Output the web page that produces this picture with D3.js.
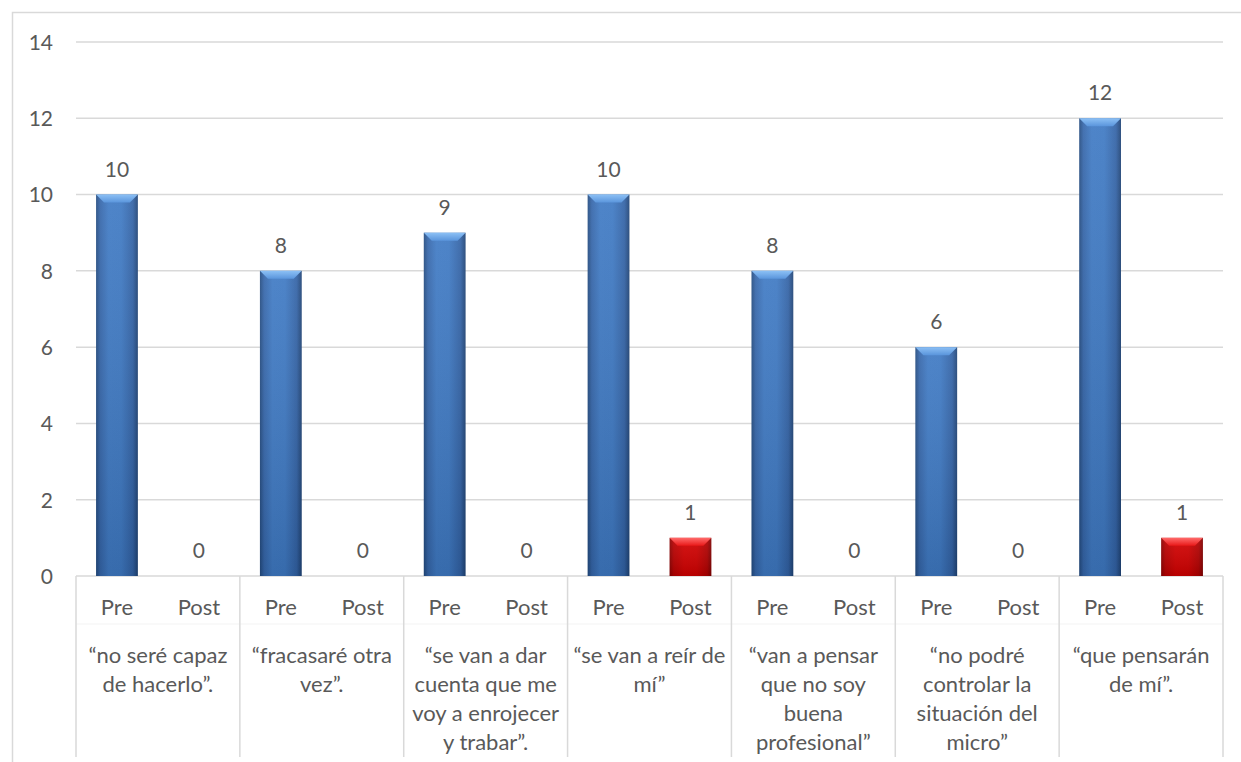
<!DOCTYPE html>
<html>
<head>
<meta charset="utf-8">
<script src="https://cdn.jsdelivr.net/npm/d3@7"></script>
<style>
  body { margin: 0; background: #fff; }
  text { font-family: Lato, "Liberation Sans", sans-serif; fill: #595959; }
</style>
</head>
<body>
<div class="chart"></div>
<script>
var categories = [
  ["“no seré capaz", "de hacerlo”."],
  ["“fracasaré otra", "vez”."],
  ["“se van a dar", "cuenta que me", "voy a enrojecer", "y trabar”."],
  ["“se van a reír de", "mí”"],
  ["“van a pensar", "que no soy", "buena", "profesional”"],
  ["“no podré", "controlar la", "situación del", "micro”"],
  ["“que pensarán", "de mí”."]
];
var seriesNames = ["Pre", "Post"];
var preValues = [10, 8, 9, 10, 8, 6, 12];
var postValues = [0, 0, 0, 1, 0, 0, 1];
var yTicks = [0, 2, 4, 6, 8, 10, 12, 14];

var width = 1241, height = 762;
var margin = {top: 42, right: 18, bottom: 186, left: 76};
var plotW = 1223 - margin.left, plotH = 576 - margin.top;

var svg = d3.select('.chart').append('svg')
  .attr('width', width)
  .attr('height', height);

// outer chart border
svg.append('rect')
  .attr('x', 12.5).attr('y', 12.5)
  .attr('width', 1240).attr('height', 760)
  .attr('fill', 'none').attr('stroke', '#d9d9d9').attr('stroke-width', 1.5);

var defs = svg.append('defs');
function sideGrad(id, stops) {
  var g = defs.append('linearGradient').attr('id', id)
    .attr('x1', '0%').attr('x2', '100%').attr('y1', '0%').attr('y2', '0%');
  stops.forEach(function(s) {
    g.append('stop').attr('offset', s[0]).attr('stop-color', s[1]);
  });
}
sideGrad('blueGrad', [['0%', '#234b80'], ['10%', '#3566aa'], ['30%', '#3f7ac4'], ['60%', '#3e79c3'], ['88%', '#3262a5'], ['100%', '#1f4375']]);
sideGrad('redGrad', [['0%', '#8a0000'], ['10%', '#b80000'], ['35%', '#d10000'], ['65%', '#cf0000'], ['90%', '#b00000'], ['100%', '#7d0000']]);
var shade = defs.append('linearGradient').attr('id', 'shade')
  .attr('x1', '0%').attr('x2', '0%').attr('y1', '0%').attr('y2', '100%');
shade.append('stop').attr('offset', '0%').attr('stop-color', '#fff').attr('stop-opacity', 0.08);
shade.append('stop').attr('offset', '100%').attr('stop-color', '#000').attr('stop-opacity', 0.12);
var bevBlue = defs.append('linearGradient').attr('id', 'bevBlue')
  .attr('x1', '0%').attr('x2', '0%').attr('y1', '0%').attr('y2', '100%');
bevBlue.append('stop').attr('offset', '0%').attr('stop-color', '#8cc0f5');
bevBlue.append('stop').attr('offset', '100%').attr('stop-color', '#5a95dc');
var bevRed = defs.append('linearGradient').attr('id', 'bevRed')
  .attr('x1', '0%').attr('x2', '0%').attr('y1', '0%').attr('y2', '100%');
bevRed.append('stop').attr('offset', '0%').attr('stop-color', '#ff6a6a');
bevRed.append('stop').attr('offset', '100%').attr('stop-color', '#e81818');

var g = svg.append('g').attr('transform', 'translate(' + margin.left + ',' + margin.top + ')');

var y = d3.scaleLinear().domain([0, 14]).range([plotH, 0]);
var x0 = d3.scaleBand().domain(d3.range(categories.length)).range([0, plotW]);
var x1 = d3.scaleBand().domain(seriesNames).range([0, x0.bandwidth()]);
var barW = x1.bandwidth() * 0.51;

// gridlines
g.selectAll('.grid').data(yTicks.filter(function(d) { return d > 0; }))
  .enter().append('line')
  .attr('x1', 0).attr('x2', plotW)
  .attr('y1', function(d) { return y(d); }).attr('y2', function(d) { return y(d); })
  .attr('stroke', '#d9d9d9').attr('stroke-width', 1.5);

// y axis labels
var yAxis = d3.axisLeft(y).tickValues(yTicks).tickSize(0).tickPadding(23);
var ya = g.append('g').call(yAxis);
ya.select('.domain').remove();
ya.selectAll('text').style('font-size', '21px').attr('fill', '#595959')
  .style('font-family', 'Lato, sans-serif').attr('dy', '0.35em');

// category box lines
g.append('line').attr('x1', 0).attr('x2', plotW).attr('y1', plotH).attr('y2', plotH)
  .attr('stroke', '#d9d9d9').attr('stroke-width', 1.5);
g.append('line').attr('x1', 0).attr('x2', plotW).attr('y1', plotH + 48).attr('y2', plotH + 48)
  .attr('stroke', '#f3f3f3').attr('stroke-width', 1);
g.selectAll('.div').data(d3.range(categories.length + 1))
  .enter().append('line')
  .attr('x1', function(i) { return i * x0.bandwidth(); })
  .attr('x2', function(i) { return i * x0.bandwidth(); })
  .attr('y1', plotH).attr('y2', plotH + 181)
  .attr('stroke', '#d9d9d9').attr('stroke-width', 1.5);

var rows = [];
categories.forEach(function(c, i) {
  rows.push({cat: i, s: 'Pre', v: preValues[i]});
  rows.push({cat: i, s: 'Post', v: postValues[i]});
});

function bx(d) { return x0(d.cat) + x1(d.s) + (x1.bandwidth() - barW) / 2; }

var bars = g.selectAll('.bar').data(rows.filter(function(d) { return d.v > 0; }))
  .enter().append('g');
bars.append('rect')
  .attr('x', bx).attr('y', function(d) { return y(d.v); })
  .attr('width', barW).attr('height', function(d) { return plotH - y(d.v); })
  .attr('fill', function(d) { return d.s === 'Pre' ? 'url(#blueGrad)' : 'url(#redGrad)'; });
bars.append('rect')
  .attr('x', bx).attr('y', function(d) { return y(d.v); })
  .attr('width', barW).attr('height', function(d) { return plotH - y(d.v); })
  .attr('fill', 'url(#shade)');
var bev = 8;
bars.append('polygon')
  .attr('points', function(d) {
    var xa = bx(d), ya0 = y(d.v);
    return [[xa, ya0], [xa + barW, ya0], [xa + barW - bev, ya0 + bev], [xa + bev, ya0 + bev]].join(' ');
  })
  .attr('fill', function(d) { return d.s === 'Pre' ? 'url(#bevBlue)' : 'url(#bevRed)'; });

// value labels
g.selectAll('.val').data(rows).enter().append('text')
  .attr('x', function(d) { return x0(d.cat) + x1(d.s) + x1.bandwidth() / 2; })
  .attr('y', function(d) { return y(d.v) - 18; })
  .attr('text-anchor', 'middle')
  .style('font-size', '21px')
  .text(function(d) { return d.v; });

// Pre / Post labels
g.selectAll('.ser').data(rows).enter().append('text')
  .attr('x', function(d) { return x0(d.cat) + x1(d.s) + x1.bandwidth() / 2; })
  .attr('y', plotH + 39)
  .attr('text-anchor', 'middle')
  .style('font-size', '22px')
  .text(function(d) { return d.s; });

// category labels
var cl = g.selectAll('.cat').data(categories).enter().append('text')
  .attr('text-anchor', 'middle')
  .style('font-size', '22px');
cl.selectAll('tspan').data(function(d, i) { return d.map(function(t) { return {t: t, i: i}; }); })
  .enter().append('tspan')
  .attr('x', function(d) { return x0(d.i) + x0.bandwidth() / 2; })
  .attr('y', function(d, j) { return plotH + 87 + j * 29; })
  .text(function(d) { return d.t; });
</script>
</body>
</html>
